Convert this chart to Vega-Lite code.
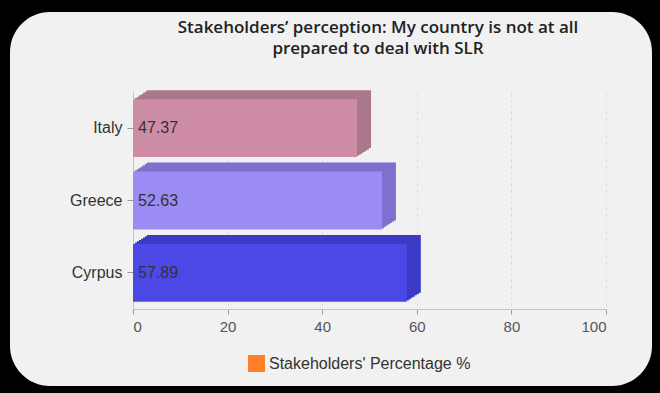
{
  "$schema": "https://vega.github.io/schema/vega-lite/v6.json",
  "width": 642,
  "height": 374,
  "autosize": {"type": "none"},
  "padding": {"left": 10, "top": 12, "right": 8, "bottom": 7},
  "background": "#000000",
  "config": {
    "view": {"fill": "#f1f1f1", "stroke": null, "cornerRadius": 40},
    "font": "Liberation Sans"
  },
  "title": {
    "text": ["Stakeholders’ perception: My country is not at all", "prepared to deal with SLR"],
    "font": "Open Sans",
    "fontSize": 17,
    "fontWeight": 600,
    "color": "#222222",
    "anchor": "middle",
    "frame": "group",
    "dx": 47,
    "offset": -46,
    "baseline": "top",
    "lineHeight": 21
  },
  "data": {
    "values": [
      {"country": "Italy", "value": 47.37, "series": "Stakeholders' Percentage %"},
      {"country": "Greece", "value": 52.63, "series": "Stakeholders' Percentage %"},
      {"country": "Cyrpus", "value": 57.89, "series": "Stakeholders' Percentage %"}
    ]
  },
  "encoding": {
    "y": {
      "field": "country",
      "type": "nominal",
      "sort": ["Italy", "Greece", "Cyrpus"],
      "scale": {"range": [80, 297], "paddingInner": 0.2, "paddingOuter": 0.1},
      "axis": {
        "title": null,
        "offset": -123,
        "domainColor": "#c4c4c4",
        "tickColor": "#999999",
        "tickSize": 6,
        "labelFontSize": 16,
        "labelColor": "#333333",
        "labelPadding": 5,
        "grid": false
      }
    },
    "x": {
      "field": "value",
      "type": "quantitative",
      "scale": {"domain": [0, 100], "range": [123, 596], "nice": false},
      "axis": {
        "title": null,
        "values": [0, 20, 40, 60, 80, 100],
        "offset": -77,
        "grid": true,
        "gridDash": [3, 3],
        "gridColor": "#dadada",
        "domainColor": "#c4c4c4",
        "tickColor": "#999999",
        "tickSize": 5,
        "labelFontSize": 15,
        "labelColor": "#555555",
        "labelPadding": 5
      }
    }
  },
  "layer": [
    {"mark": {"type": "bar", "xOffset": 2, "yOffset": -1.3}, "encoding": {"color": {"field": "country", "type": "nominal", "scale": {"domain": ["Italy", "Greece", "Cyrpus"], "range": ["#a9788b", "#7d70cf", "#3c39c4"]}, "legend": null}}},
    {"mark": {"type": "bar", "xOffset": 4, "yOffset": -2.6}, "encoding": {"color": {"field": "country", "type": "nominal", "legend": null}}},
    {"mark": {"type": "bar", "xOffset": 6, "yOffset": -3.9}, "encoding": {"color": {"field": "country", "type": "nominal", "legend": null}}},
    {"mark": {"type": "bar", "xOffset": 8, "yOffset": -5.1}, "encoding": {"color": {"field": "country", "type": "nominal", "legend": null}}},
    {"mark": {"type": "bar", "xOffset": 10, "yOffset": -6.4}, "encoding": {"color": {"field": "country", "type": "nominal", "legend": null}}},
    {"mark": {"type": "bar", "xOffset": 12, "yOffset": -7.7}, "encoding": {"color": {"field": "country", "type": "nominal", "legend": null}}},
    {"mark": {"type": "bar", "xOffset": 14, "yOffset": -9}, "encoding": {"color": {"field": "country", "type": "nominal", "legend": null}}},
    {
      "mark": {"type": "bar", "strokeWidth": 0},
      "encoding": {
        "fill": {"field": "country", "type": "nominal", "scale": {"domain": ["Italy", "Greece", "Cyrpus"], "range": ["#cf8ca7", "#9a8cf2", "#4b48e6"]}, "legend": null},
        "stroke": {
          "field": "series",
          "type": "nominal",
          "scale": {"range": ["#ff7f27"]},
          "legend": {
            "orient": "none",
            "legendX": 238,
            "legendY": 343,
            "title": null,
            "symbolType": "square",
            "symbolSize": 289,
            "symbolFillColor": "#ff7f27",
            "symbolStrokeColor": "#ff7f27",
            "symbolStrokeWidth": 0,
            "labelFontSize": 16,
            "labelColor": "#333333",
            "labelFont": "Liberation Sans",
            "labelOffset": 4,
            "labelLimit": 400
          }
        }
      }
    },
    {
      "mark": {"type": "text", "align": "left", "dx": 5, "fontSize": 16, "color": "#333333"},
      "encoding": {
        "x": {"datum": 0, "type": "quantitative"},
        "text": {"field": "value", "type": "quantitative", "format": ".2f"}
      }
    }
  ]
}
